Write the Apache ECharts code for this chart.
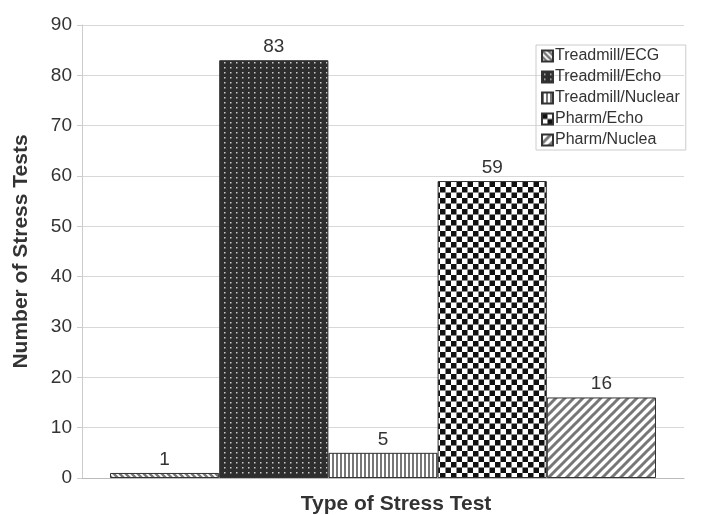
<!DOCTYPE html>
<html><head><meta charset="utf-8">
<script src="https://cdn.jsdelivr.net/npm/echarts@6/dist/echarts.min.js"></script>
<style>html,body{margin:0;padding:0;background:#fff}#c{width:704px;height:515px}</style>
</head><body><div id="c"></div>
<script>
const categories = ['Type of Stress Test'];
const seriesNames = ['Treadmill/ECG','Treadmill/Echo','Treadmill/Nuclear','Pharm/Echo','Pharm/Nuclea'];
const seriesValues = [[1],[83],[5],[59],[16]];
const yTicks = [0,10,20,30,40,50,60,70,80,90];

function mk(w,h,draw){const c=document.createElement('canvas');c.width=w;c.height=h;const g=c.getContext('2d');draw(g,w,h);return {image:c,repeat:'repeat'};}
function diag(n,fg,bg,lw,back){return mk(n,n,(g,w,h)=>{g.fillStyle=bg;g.fillRect(0,0,w,h);g.strokeStyle=fg;g.lineWidth=lw;
  const segs = back ? [[-w,0,w,2*h],[0,0,w,h],[0,-h,2*w,h]] : [[0,h,w,0],[-w,h,w,-h],[0,2*h,2*w,0]];
  segs.forEach(s=>{g.beginPath();g.moveTo(s[0],s[1]);g.lineTo(s[2],s[3]);g.stroke();});});}
const patterns = [
  diag(6,'#777','#fff',2.5,true),
  mk(6,5,(g,w,h)=>{g.fillStyle='#2e2e2e';g.fillRect(0,0,w,h);g.fillStyle='#ccc';g.fillRect(2,2,1.5,1.5);}),
  mk(4,4,(g,w,h)=>{g.fillStyle='#fff';g.fillRect(0,0,w,h);g.fillStyle='#777';g.fillRect(0,0,2,h);}),
  mk(11,11,(g,w,h)=>{g.fillStyle='#fff';g.fillRect(0,0,w,h);g.fillStyle='#111';g.fillRect(0,0,5.5,5.5);g.fillRect(5.5,5.5,5.5,5.5);}),
  diag(9,'#777','#fff',3,false)
];

const chart = echarts.init(document.getElementById('c'));
const font = 'Liberation Sans, Arial, sans-serif';
chart.setOption({
  animation:false,
  textStyle:{fontFamily:font},
  grid:{left:82,right:20,top:25,bottom:37,containLabel:false,outerBoundsMode:'none'},
  legend:{orient:'vertical',left:536,top:45,padding:[3,6,2,5],itemGap:5,itemWidth:11,itemHeight:11,
    borderColor:'#ccc',borderWidth:1,icon:'rect',data:seriesNames,
    textStyle:{fontSize:16,color:'#333',fontFamily:font,padding:[0,0,0,-3]}},
  xAxis:{type:'category',data:categories,axisLabel:{show:false},axisTick:{show:false},
    axisLine:{lineStyle:{color:'#bbb'}},
    name:'Type of Stress Test',nameLocation:'middle',nameGap:16,
    nameTextStyle:{fontSize:21,fontWeight:'bold',color:'#333',padding:[0,0,0,26]}},
  yAxis:{type:'value',min:0,max:90,interval:10,
    axisLine:{show:true,lineStyle:{color:'#ccc'}},axisTick:{show:true,length:5,lineStyle:{color:'#ccc'}},
    axisLabel:{fontSize:19,color:'#333',margin:10},
    splitLine:{lineStyle:{color:'#d8d8d8'}},
    name:'Number of Stress Tests',nameLocation:'middle',nameGap:50,
    nameTextStyle:{fontSize:21,fontWeight:'bold',color:'#333'}},
  series: seriesNames.map((n,i)=>({
    name:n,type:'bar',data:seriesValues[i],barGap:'0%',barCategoryGap:'9.3%',
    itemStyle:{color:patterns[i],borderColor:'#333',borderWidth:1},
    label:{show:true,position:'top',fontSize:19,color:'#333',distance:4}
  }))
});
</script></body></html>
